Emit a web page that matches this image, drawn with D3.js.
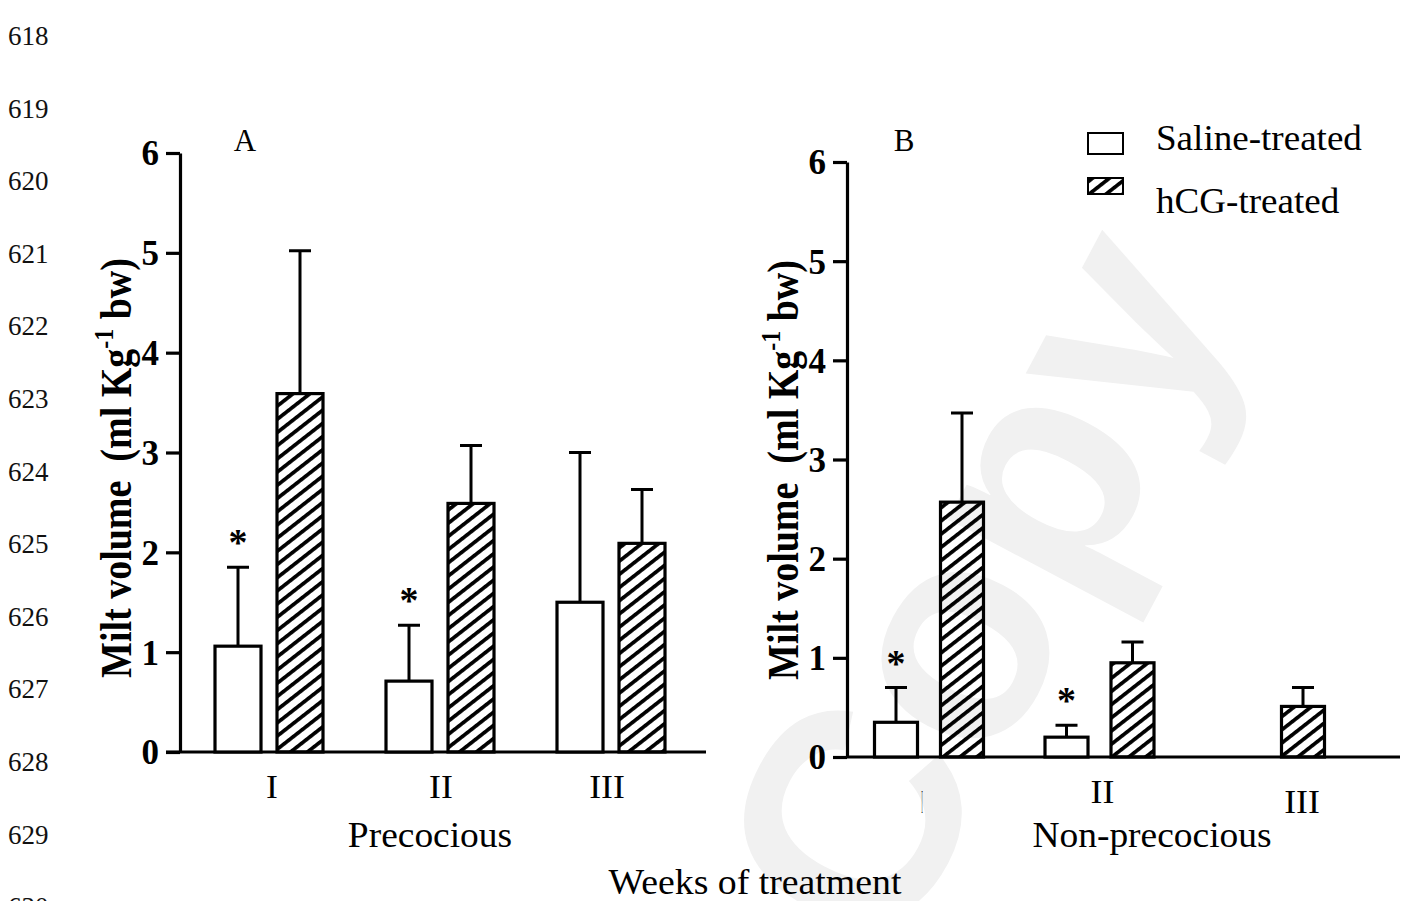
<!DOCTYPE html>
<html>
<head>
<meta charset="utf-8">
<script src="https://cdn.jsdelivr.net/npm/d3@7"></script>
<style>
  body { margin: 0; background: #fff; }
  svg { display: block; font-family: "Liberation Serif", "Times New Roman", serif; }
  text { white-space: pre; }
</style>
</head>
<body>
<svg id="chart"></svg>
<script>
// data
var weeks = ['I', 'II', 'III'];
var series = ['Saline-treated', 'hCG-treated'];
var yTicks = [0, 1, 2, 3, 4, 5, 6];

var precSaline = [1.06, 0.71, 1.50];
var precSalineErr = [0.79, 0.56, 1.50];
var precHcg = [3.59, 2.49, 2.09];
var precHcgErr = [1.43, 0.58, 0.54];
var precStar = [true, true, false];

var nonSaline = [0.35, 0.20, 0];
var nonSalineErr = [0.35, 0.12, null];
var nonHcg = [2.57, 0.95, 0.51];
var nonHcgErr = [0.90, 0.21, 0.19];
var nonStar = [true, true, false];

var lineNumbers = [618, 619, 620, 621, 622, 623, 624, 625, 626, 627, 628, 629, 630];

var width = 1415;
var height = 901;

var svg = d3.select('#chart')
    .attr('width', width)
    .attr('height', height);

svg.append('rect')
    .attr('width', width)
    .attr('height', height)
    .attr('fill', '#fff');

// diagonal hatching, horizontal stripes turned up to the right
var defs = svg.append('defs');
defs.append('pattern')
    .attr('id', 'hatch')
    .attr('patternUnits', 'userSpaceOnUse')
    .attr('width', 10)
    .attr('height', 10.4)
    .attr('patternTransform', 'rotate(-38)')
  .append('rect')
    .attr('width', 10)
    .attr('height', 3.7)
    .attr('fill', '#000');

// horizontal text in the source is a little wider than the font
function place(sel, x, y, sx) {
  return sel.attr('transform', 'translate(' + x + ',' + y + ') scale(' + sx + ',1)');
}

// watermark
svg.append('text')
    .attr('transform', 'translate(975,585) rotate(-62)')
    .attr('text-anchor', 'middle')
    .attr('dominant-baseline', 'central')
    .style('font-family', 'Liberation Sans, Arial, sans-serif')
    .style('font-weight', 'bold')
    .style('font-size', '300px')
    .attr('fill', '#f1f1f1')
    .text('Copy');

// line numbers down the margin
svg.append('g')
  .selectAll('text')
  .data(lineNumbers)
  .enter()
  .append('text')
    .attr('x', 8)
    .attr('y', (d, i) => 45 + i * 72.6)
    .style('font-size', '27px')
    .attr('fill', '#111')
    .text(d => d);

var panels = [
  {
    saline: precSaline, salineErr: precSalineErr,
    hcg: precHcg, hcgErr: precHcgErr, star: precStar,
    axisX: 180, y0: 752, y6: 153, base: [166, 706],
    groups: [269, 611], offset: 31, barW: 46,
    letter: 'A', letterX: 245, titleX: 131, titleY: 468,
    group: 'Precocious', groupX: 430,
    labelDx: [3, 1, -4], labelDy: [0, 0, 0]
  },
  {
    saline: nonSaline, salineErr: nonSalineErr,
    hcg: nonHcg, hcgErr: nonHcgErr, star: nonStar,
    axisX: 847, y0: 757, y6: 162, base: [847, 1400],
    groups: [929, 1270], offset: 33, barW: 43,
    letter: 'B', letterX: 904, titleX: 798, titleY: 470,
    group: 'Non-precocious', groupX: 1152,
    labelDx: [-7, 3, 32], labelDy: [10, 0, 10]
  }
];

panels.forEach(function(p) {
  var y = d3.scaleLinear().domain([0, 6]).range([p.y0, p.y6]);
  var x = d3.scalePoint().domain(weeks).range(p.groups);
  var sx = d3.scalePoint().domain(series).range([-p.offset, p.offset]);

  var g = svg.append('g');

  // baseline
  g.append('line')
      .attr('x1', p.base[0])
      .attr('x2', p.base[1])
      .attr('y1', y(0))
      .attr('y2', y(0))
      .attr('stroke', '#000')
      .attr('stroke-width', 3.2);

  // y axis title (drawn first so the tick labels sit on top)
  var t = g.append('text')
      .attr('transform', 'translate(' + p.titleX + ',' + p.titleY + ') rotate(-90) scale(1,1.18)')
      .attr('text-anchor', 'middle')
      .style('font-size', '38px')
      .style('font-weight', 'bold');
  t.append('tspan').text('Milt volume  (ml Kg');
  t.append('tspan').attr('dy', -15).style('font-size', '24px').text('-1');
  t.append('tspan').attr('dy', 15).text(' bw)');

  // y axis
  var yAxis = d3.axisLeft(y)
      .tickValues(yTicks)
      .tickSize(14)
      .tickPadding(7)
      .tickSizeOuter(0)
      .tickFormat(d3.format('d'));
  var ax = g.append('g')
      .attr('transform', 'translate(' + p.axisX + ',0)')
      .call(yAxis);
  ax.select('.domain').attr('stroke-width', 3.2);
  ax.selectAll('.tick line').attr('stroke-width', 3.2);
  ax.selectAll('.tick text')
      .style('font-family', 'Liberation Serif, serif')
      .style('font-size', '35px')
      .style('font-weight', 'bold')
      .attr('fill', '#000')
      .attr('dy', '0.34em');

  var rows = [];
  weeks.forEach(function(w, i) {
    rows.push({week: w, s: series[0], v: p.saline[i], e: p.salineErr[i], star: p.star[i]});
    rows.push({week: w, s: series[1], v: p.hcg[i], e: p.hcgErr[i], star: false});
  });
  var shown = rows.filter(d => d.v > 0);

  // error bars (upper only)
  g.selectAll('.err')
    .data(shown.filter(d => d.e != null))
    .enter()
    .append('path')
      .attr('d', function(d) {
        var cx = x(d.week) + sx(d.s);
        return 'M' + cx + ',' + y(d.v) + 'V' + y(d.v + d.e) +
               'M' + (cx - 11) + ',' + y(d.v + d.e) + 'H' + (cx + 11);
      })
      .attr('fill', 'none')
      .attr('stroke', '#000')
      .attr('stroke-width', 3);

  // bars
  g.selectAll('.bar')
    .data(shown)
    .enter()
    .append('rect')
      .attr('x', d => x(d.week) + sx(d.s) - p.barW / 2)
      .attr('width', p.barW)
      .attr('y', d => y(d.v))
      .attr('height', d => y(0) - y(d.v))
      .attr('fill', d => d.s === series[0] ? '#fff' : 'url(#hatch)')
      .attr('stroke', '#000')
      .attr('stroke-width', 3.2);

  // significance stars
  g.selectAll('.star')
    .data(rows.filter(d => d.star))
    .enter()
    .append('text')
      .attr('x', d => x(d.week) + sx(d.s))
      .attr('y', d => y(d.v + (d.e || 0)) - 12)
      .attr('text-anchor', 'middle')
      .style('font-size', '38px')
      .style('font-weight', 'bold')
      .text('*');

  // week labels
  g.selectAll('.wk')
    .data(weeks)
    .enter()
    .append('text')
      .attr('text-anchor', 'middle')
      .attr('transform', function(d, i) {
        var tx = x(d) + p.labelDx[i];
        var ty = y(0) + 46 + p.labelDy[i];
        // the first week label of panel B is squeezed in the source
        var squeeze = (p.letter === 'B' && i === 0) ? ' scale(0.1,1)' : ' scale(1.05,1)';
        return 'translate(' + tx + ',' + ty + ')' + squeeze;
      })
      .style('font-size', '34px')
      .text(d => d);

  place(g.append('text'), p.groupX, 847, 1.07)
      .attr('text-anchor', 'middle')
      .style('font-size', '35px')
      .text(p.group);

  g.append('text')
      .attr('x', p.letterX)
      .attr('y', 151)
      .attr('text-anchor', 'middle')
      .style('font-size', '31px')
      .text(p.letter);
});

place(svg.append('text'), 755, 894, 1.08)
    .attr('text-anchor', 'middle')
    .style('font-size', '35px')
    .text('Weeks of treatment');

// legend
var legend = svg.append('g');
legend.selectAll('rect')
  .data(series)
  .enter()
  .append('rect')
    .attr('x', 1088)
    .attr('y', (d, i) => i === 0 ? 133 : 178)
    .attr('width', 35)
    .attr('height', (d, i) => i === 0 ? 21 : 16)
    .attr('fill', (d, i) => i === 0 ? '#fff' : 'url(#hatch)')
    .attr('stroke', '#000')
    .attr('stroke-width', 2);
legend.selectAll('text')
  .data(series)
  .enter()
  .append('text')
    .attr('text-anchor', 'start')
    .attr('transform', (d, i) => 'translate(1156,' + (150 + i * 63) + ') scale(1.06,1)')
    .style('font-size', '35px')
    .text(d => d);
</script>
</body>
</html>
